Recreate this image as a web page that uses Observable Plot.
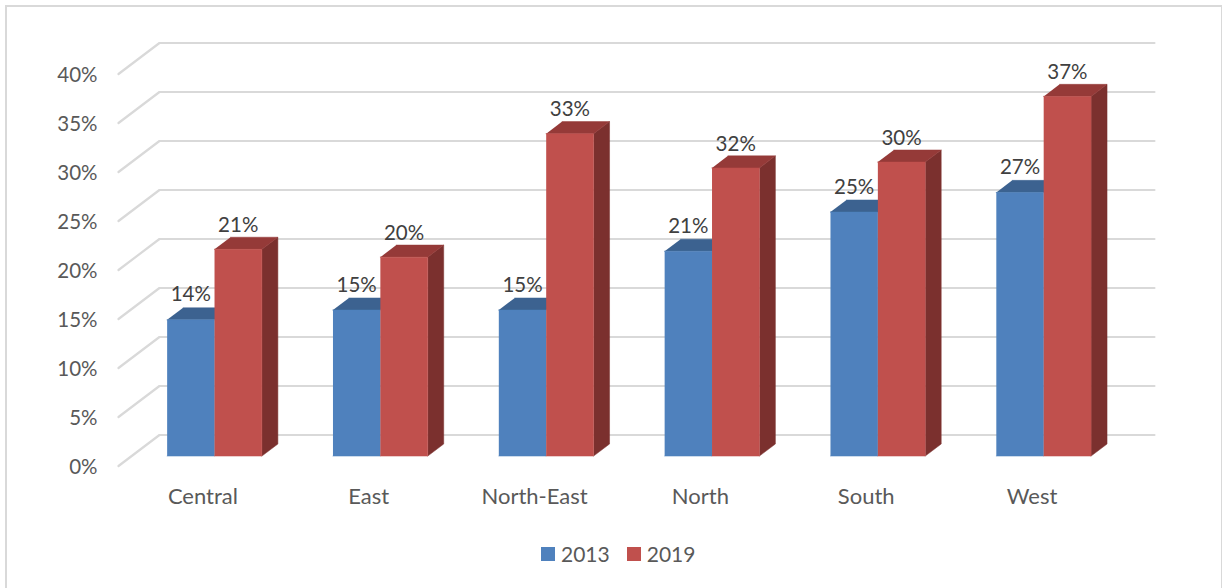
<!DOCTYPE html>
<html>
<head>
<meta charset="utf-8">
<script src="https://cdn.jsdelivr.net/npm/d3@7"></script>
<script src="https://cdn.jsdelivr.net/npm/@observablehq/plot@0.6"></script>
<style>
  html, body { margin: 0; padding: 0; background: #fff; }
  #page { position: relative; width: 1222px; height: 588px; overflow: hidden; font-family: Lato, sans-serif; }
  #frame { position: absolute; left: 5px; top: 5px; width: 1214px; height: 640px; border: 2px solid #d9d9d9; pointer-events: none; }
  #legend { position: absolute; left: 541px; top: 541px; display: flex; align-items: center; font-size: 21px; color: #595959; line-height: 26px; }
  #legend i { display: inline-block; width: 14px; height: 14px; margin-right: 6px; }
  #legend span { margin-right: 17px; display: flex; align-items: center; }
  #chart svg { display: block; position: absolute; left: 0; top: 0; }
</style>
</head>
<body>
<div id="page">
  <div id="chart"></div>
  <div id="frame"></div>
  <div id="legend"></div>
</div>
<script>
const categories = ["Central", "East", "North-East", "North", "South", "West"];
const values2013 = [13.9, 14.9, 14.9, 20.9, 24.9, 26.9];
const values2019 = [21.1, 20.3, 32.9, 29.4, 30, 36.7];
const labels2013 = ["14%", "15%", "15%", "21%", "25%", "27%"];
const labels2019 = ["21%", "20%", "33%", "32%", "30%", "37%"];
const yTicks = [0, 5, 10, 15, 20, 25, 30, 35, 40];
const seriesNames = ["2013", "2019"];
const seriesColors = ["#4f81bd", "#c0504d"];
const topColors = ["#3c6290", "#953a38"];
const sideColor = "#7b302e";
const gridColor = "#d9d9d9";

// Oblique projection of the 3D chart: depth t (0 front of floor, 1 back wall)
const depthX = 41 / 166;      // category units
const depthY = 31 / 9.8;      // percent units
const barW = 1 / 3.5;
const tFront = 0.32, tBack = 0.71;
const px = (x, t) => x + t * depthX;
const py = (v, t) => v + t * depthY;

const rows = (pts, id) => pts.map(([x, y]) => ({x, y, id}));

function frontFace(i, v, s) {
  const x0 = i + 0.5 - barW + s * barW, x1 = x0 + barW, t = tFront;
  return rows([[px(x0,t),py(0,t)],[px(x1,t),py(0,t)],[px(x1,t),py(v,t)],[px(x0,t),py(v,t)]], `f${i}${s}`);
}
function topFace(i, v, s) {
  const x0 = i + 0.5 - barW + s * barW, x1 = x0 + barW;
  return rows([[px(x0,tFront),py(v,tFront)],[px(x1,tFront),py(v,tFront)],[px(x1,tBack),py(v,tBack)],[px(x0,tBack),py(v,tBack)]], `t${i}${s}`);
}
function sideFace(i, v, s) {
  const x1 = i + 0.5 - barW + s * barW + barW;
  return rows([[px(x1,tFront),py(0,tFront)],[px(x1,tBack),py(0,tBack)],[px(x1,tBack),py(v,tBack)],[px(x1,tFront),py(v,tFront)]], `s${i}${s}`);
}
const face = (data, fill) => Plot.line(data, {x: "x", y: "y", z: "id", fill, stroke: fill, strokeWidth: 0.5});

const grid = yTicks.flatMap(v => rows([[0, v], [px(0,1), py(v,1)], [px(6,1), py(v,1)]], `g${v}`));

const blueTop = values2013.flatMap((v,i) => topFace(i,v,0));
const blueFront = values2013.flatMap((v,i) => frontFace(i,v,0));
const redTop = values2019.flatMap((v,i) => topFace(i,v,1));
const redSide = values2019.flatMap((v,i) => sideFace(i,v,1));
const redFront = values2019.flatMap((v,i) => frontFace(i,v,1));

const labelRows = (vals, labs, s) => vals.map((v,i) => ({
  x: px(i + 0.5 - barW + (s + 0.5) * barW, tFront),
  y: py(v, tFront),
  text: labs[i]
}));

const plot = Plot.plot({
  width: 1222,
  height: 588,
  marginLeft: 118,
  marginRight: 109,
  marginTop: 73.5,
  marginBottom: 122.5,
  style: {fontFamily: "Lato, sans-serif", fontSize: "20.5px", background: "transparent", overflow: "visible"},
  x: {type: "linear", domain: [0, 6]},
  y: {type: "linear", domain: [0, 40]},
  marks: [
    Plot.line(grid, {x: "x", y: "y", z: "id", stroke: gridColor, strokeWidth: 2.2}),
    face(blueTop, topColors[0]),
    face(blueFront, seriesColors[0]),
    face(redSide, sideColor),
    face(redTop, topColors[1]),
    face(redFront, seriesColors[1]),
    Plot.axisY(yTicks, {tickSize: 0, tickPadding: 21, dy: 1.5, tickFormat: d => d + "%", label: null, fill: "#595959", fontSize: 20.5}),
    Plot.axisX(categories.map((c,i) => i + 0.5), {tickSize: 0, tickPadding: 22, dx: 1.5, tickFormat: d => categories[d - 0.5], label: null, fill: "#595959", fontSize: 22}),
    Plot.text(labelRows(values2013, labels2013, 0), {x: "x", y: "y", text: "text", dy: -25, fill: "#404040", fontSize: 20.5}),
    Plot.text(labelRows(values2019, labels2019, 1), {x: "x", y: "y", text: "text", dy: -24, fill: "#404040", fontSize: 20.5})
  ]
});
document.getElementById("chart").appendChild(plot);

const legend = document.getElementById("legend");
seriesNames.forEach((n, k) => {
  const s = document.createElement("span");
  const sw = document.createElement("i");
  sw.style.background = seriesColors[k];
  s.appendChild(sw);
  s.appendChild(document.createTextNode(n));
  legend.appendChild(s);
});
</script>
</body>
</html>
